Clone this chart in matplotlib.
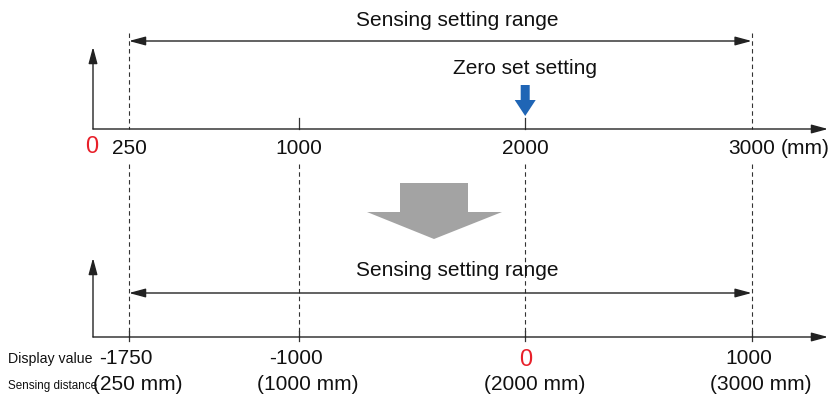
import matplotlib

matplotlib.use("Agg")
from matplotlib import pyplot as plt

# distances on the sensor scale (mm) and what the display shows after zero set
distances = [250, 1000, 2000, 3000]
display_values = [-1750, -1000, 0, 1000]
range_min = 250
range_max = 3000
zero_set = 2000

plt.rcParams["font.family"] = ["Liberation Sans", "DejaVu Sans"]

W, H = 829, 395
# x in mm (roughly 0.2264 px per mm, 250 mm sits near 129 px); y in pixels
scale = 0.2264
offset = 129 - range_min * scale


def px2mm(px):
    return (px - offset) / scale


fig = plt.figure(figsize=(W / 100, H / 100), dpi=100)
ax = fig.add_axes([0, 0, 1, 1])
ax.set_xlim(px2mm(0), px2mm(W))
ax.set_ylim(H, 0)
ax.axis("off")

ink = "#333333"
text_col = "#111111"
red = "#e8202a"
blue = "#1f65b5"
grey = "#a3a3a3"
x0 = px2mm(93)
x_end = px2mm(828)
head = "-|>,head_length=1.0,head_width=0.27"


def arrow(x1, y1, x2, y2, style=head):
    ax.annotate("", xy=(x2, y2), xytext=(x1, y1),
                arrowprops=dict(arrowstyle=style, color="#222222", lw=1.0,
                                shrinkA=0, shrinkB=0, mutation_scale=10))


# top panel axes
arrow(x0, 129, x_end, 129)
arrow(x0, 129, x0, 47)
# bottom panel axes
arrow(x0, 337, x_end, 337)
arrow(x0, 337, x0, 258)

# range arrows
both = "<|-|>,head_length=1.0,head_width=0.27"
for y_arr, y_txt in [(41, 21), (293, 271)]:
    arrow(range_min, y_arr, range_max, y_arr, style=both)
    ax.text(px2mm(457), y_txt, "Sensing setting range",
            ha="center", va="center", fontsize=15, color=text_col)

# dashed guides and ticks
for d in distances:
    if d in (range_min, range_max):
        ax.plot([d, d], [33, 129], ls=(0, (4, 3)), color=ink, lw=0.8)
    else:
        ax.plot([d, d], [118, 129], color=ink, lw=0.9)
    ax.plot([d, d], [164, 337], ls=(0, (4, 3)), color=ink, lw=0.8)
    ax.plot([d, d], [331, 341], color=ink, lw=0.9)

# top labels
ax.text(px2mm(92), 147, "0", ha="center", va="center", fontsize=17, color=red)
for d in distances:
    ax.text(d, 148, f"{d}", ha="center", va="center", fontsize=15, color=text_col)
ax.text(range_max + 29 / scale, 148, "(mm)", ha="left", va="center", fontsize=15,
        color=text_col)

# zero set marker
ax.text(zero_set, 68, "Zero set setting", ha="center", va="center", fontsize=15,
        color=text_col)
sw = 4.5 / scale
hw = 10.5 / scale
ax.fill([zero_set - sw, zero_set + sw, zero_set + sw, zero_set + hw, zero_set,
         zero_set - hw, zero_set - sw],
        [85, 85, 100, 100, 116, 100, 100], color=blue, lw=0)

# big grey arrow between panels
ax.fill([px2mm(400), px2mm(468), px2mm(468), px2mm(502), px2mm(434), px2mm(367),
         px2mm(400)],
        [183, 183, 212, 212, 239, 212, 212], color=grey, lw=0)

# bottom labels
for d, v in zip(distances, display_values):
    if v == 0:
        ax.text(d, 360, "0", ha="center", va="center", fontsize=17, color=red)
    else:
        ax.text(d - 3 / scale, 359, f"{v}", ha="center", va="center", fontsize=15,
                color=text_col)
    ax.text(d + 9 / scale, 385, f"({d} mm)", ha="center", va="center", fontsize=15,
            color=text_col)

ax.text(px2mm(8), 359, "Display value", ha="left", va="center", fontsize=10.2,
        color=text_col)
ax.text(px2mm(8), 386, "Sensing distance", ha="left", va="center", fontsize=8.4,
        color=text_col)

fig.savefig("out.png", dpi=100)
